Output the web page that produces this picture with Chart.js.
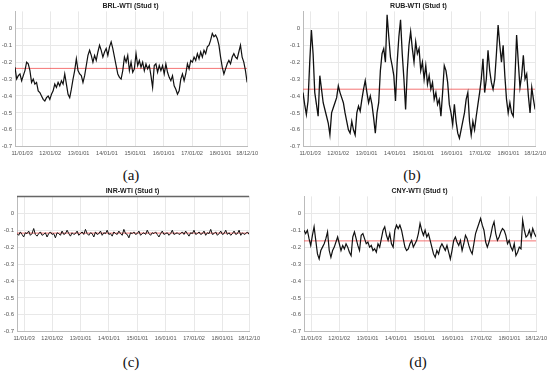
<!DOCTYPE html>
<html>
<head>
<meta charset="utf-8">
<script src="https://cdn.jsdelivr.net/npm/chart.js@4.4.1/dist/chart.umd.min.js"></script>
<style>
  body { margin: 0; background: #fff; width: 550px; height: 372px; position: relative; overflow: hidden; }
  .panel { position: absolute; }
  .sub { position: absolute; font-family: "Liberation Serif", "DejaVu Serif", serif; font-size: 15px; color: #111; transform: translate(-50%, -50%); }
</style>
</head>
<body>
<canvas id="chart-a" class="panel" width="261" height="162" style="left:0px;top:0px"></canvas>
<canvas id="chart-b" class="panel" width="261" height="162" style="left:288px;top:0px"></canvas>
<canvas id="chart-c" class="panel" width="261" height="162" style="left:2px;top:185px"></canvas>
<canvas id="chart-d" class="panel" width="261" height="162" style="left:289px;top:185px"></canvas>
<div class="sub" style="left:131px;top:175px">(a)</div>
<div class="sub" style="left:412px;top:175px">(b)</div>
<div class="sub" style="left:131px;top:362px">(c)</div>
<div class="sub" style="left:418px;top:362px">(d)</div>

<script>
// --- DATA ---
// time span of every series, in fractional years (first and last observation)
const dateStart = 2010.76;
const dateEnd = 2018.94;

const xTickYears = [2011.01, 2012.0, 2013.0, 2014.0, 2015.0, 2016.0, 2017.0, 2018.0, 2018.94];
const xTickLabels = ["11/01/03", "12/01/02", "13/01/01", "14/01/01", "15/01/01", "16/01/01", "17/01/02", "18/01/01", "18/12/10"];
const yTicks = [-0.7, -0.6, -0.5, -0.4, -0.3, -0.2, -0.1, 0];
const yTickLabels = ["-0.7", "-0.6", "-0.5", "-0.4", "-0.3", "-0.2", "-0.1", "0"];

const titles = ["BRL-WTI (Stud t)", "RUB-WTI (Stud t)", "INR-WTI (Stud t)", "CNY-WTI (Stud t)"];
const means = [-0.237, -0.36, -0.117, -0.163];

const brlWti = [
  -0.23, -0.3, -0.28, -0.27, -0.31, -0.28, -0.25, -0.2, -0.21, -0.25,
  -0.32, -0.3, -0.33, -0.32, -0.37, -0.38, -0.4, -0.42, -0.43, -0.41,
  -0.4, -0.42, -0.39, -0.37, -0.33, -0.35, -0.32, -0.34, -0.31, -0.33,
  -0.27, -0.33, -0.39, -0.41, -0.36, -0.3, -0.25, -0.18, -0.25, -0.27,
  -0.28, -0.32, -0.28, -0.22, -0.16, -0.13, -0.16, -0.2, -0.16, -0.19,
  -0.14, -0.1, -0.13, -0.17, -0.14, -0.12, -0.16, -0.11, -0.08, -0.12,
  -0.17, -0.22, -0.27, -0.29, -0.3, -0.25, -0.17, -0.2, -0.16, -0.25,
  -0.2, -0.26, -0.24, -0.15, -0.22, -0.19, -0.23, -0.2, -0.25, -0.21,
  -0.24, -0.22, -0.28, -0.35, -0.22, -0.21, -0.26, -0.22, -0.25, -0.22,
  -0.27, -0.21, -0.26, -0.29, -0.31, -0.28, -0.34, -0.36, -0.39, -0.37,
  -0.3, -0.27, -0.31, -0.27, -0.21, -0.24, -0.19, -0.2, -0.17, -0.19,
  -0.15, -0.18, -0.14, -0.17, -0.13, -0.15, -0.11, -0.1, -0.07, -0.03,
  -0.05, -0.04, -0.06, -0.1, -0.17, -0.23, -0.27, -0.24, -0.21, -0.19,
  -0.21, -0.17, -0.15, -0.17, -0.18, -0.14, -0.1, -0.17, -0.2, -0.25,
  -0.32
];

const rubWti = [
  -0.38, -0.45, -0.51, -0.43, -0.2, -0.01, -0.15, -0.38, -0.45, -0.52,
  -0.28, -0.36, -0.44, -0.48, -0.52, -0.56, -0.63, -0.5, -0.47, -0.44,
  -0.41, -0.34, -0.38, -0.41, -0.44, -0.5, -0.55, -0.6, -0.62, -0.55,
  -0.6, -0.63, -0.5, -0.46, -0.49, -0.42, -0.36, -0.31, -0.38, -0.44,
  -0.4, -0.45, -0.53, -0.62, -0.5, -0.44, -0.25, -0.15, -0.12, -0.2,
  0.08, -0.05, -0.17, -0.22, -0.28, -0.43, -0.2, -0.05, 0.05, -0.15,
  -0.3, -0.48, -0.25, -0.1, -0.02, -0.12, -0.2, -0.08, -0.15, -0.12,
  -0.25, -0.2, -0.3, -0.22, -0.33, -0.28, -0.36, -0.32, -0.42, -0.38,
  -0.45, -0.42, -0.52, -0.38, -0.22, -0.25, -0.32, -0.45, -0.5, -0.57,
  -0.45, -0.55, -0.62, -0.65, -0.6, -0.55, -0.5, -0.42, -0.38, -0.55,
  -0.63, -0.55, -0.6, -0.52, -0.45, -0.38, -0.3, -0.18, -0.38, -0.3,
  -0.13, -0.25, -0.32, -0.36, -0.3, -0.15, 0.02, -0.1, -0.2, -0.1,
  -0.28, -0.42, -0.5, -0.44, -0.5, -0.52, -0.3, -0.04, -0.2, -0.35,
  -0.28, -0.16, -0.3, -0.27, -0.4, -0.5, -0.35, -0.42, -0.48
];

const inrWti = [
  -0.12, -0.13, -0.11, -0.125, -0.14, -0.115, -0.12, -0.105, -0.13, -0.12,
  -0.09, -0.125, -0.135, -0.12, -0.11, -0.13, -0.125, -0.115, -0.14, -0.12,
  -0.11, -0.125, -0.12, -0.145, -0.115, -0.12, -0.13, -0.105, -0.125, -0.12,
  -0.1, -0.12, -0.135, -0.115, -0.125, -0.12, -0.105, -0.13, -0.12, -0.11,
  -0.125, -0.095, -0.12, -0.13, -0.115, -0.12, -0.14, -0.11, -0.125, -0.12,
  -0.105, -0.13, -0.115, -0.12, -0.1, -0.125, -0.12, -0.135, -0.11, -0.12,
  -0.125, -0.105, -0.12, -0.13, -0.095, -0.12, -0.125, -0.145, -0.115, -0.12,
  -0.11, -0.125, -0.12, -0.105, -0.13, -0.12, -0.115, -0.125, -0.1, -0.12,
  -0.13, -0.115, -0.12, -0.11, -0.125, -0.14, -0.12, -0.105, -0.125, -0.12,
  -0.115, -0.13, -0.12, -0.1, -0.125, -0.12, -0.115, -0.125, -0.12, -0.11,
  -0.125, -0.105, -0.12, -0.135, -0.115, -0.12, -0.1, -0.125, -0.12, -0.11,
  -0.125, -0.12, -0.105, -0.13, -0.115, -0.12, -0.095, -0.125, -0.12, -0.11,
  -0.13, -0.12, -0.105, -0.125, -0.12, -0.1, -0.125, -0.115, -0.13, -0.12,
  -0.105, -0.125, -0.12, -0.1, -0.13, -0.115, -0.125, -0.12, -0.11, -0.125
];

const cnyWti = [
  -0.1, -0.12, -0.1, -0.15, -0.19, -0.13, -0.08, -0.16, -0.24, -0.27,
  -0.22, -0.2, -0.18, -0.15, -0.11, -0.22, -0.26, -0.22, -0.2, -0.17,
  -0.14, -0.18, -0.22, -0.19, -0.21, -0.18, -0.2, -0.23, -0.25, -0.14,
  -0.11, -0.15, -0.19, -0.22, -0.13, -0.12, -0.15, -0.18, -0.17, -0.2,
  -0.19, -0.22, -0.21, -0.23, -0.18, -0.2, -0.15, -0.1, -0.08, -0.13,
  -0.16, -0.12, -0.18, -0.2, -0.1, -0.07, -0.09, -0.07, -0.1, -0.15,
  -0.2, -0.22, -0.21, -0.18, -0.16, -0.2, -0.18, -0.16, -0.12, -0.06,
  -0.1, -0.13, -0.1, -0.14, -0.12, -0.16, -0.2, -0.24, -0.26, -0.22,
  -0.24, -0.2, -0.18, -0.2, -0.22, -0.19, -0.23, -0.27, -0.22, -0.16,
  -0.14, -0.17, -0.19, -0.16, -0.22, -0.18, -0.13, -0.15, -0.19, -0.22,
  -0.24, -0.18, -0.12, -0.09, -0.06, -0.03, -0.07, -0.1, -0.17, -0.2,
  -0.17, -0.13, -0.08, -0.05, -0.12, -0.16, -0.14, -0.11, -0.09, -0.1,
  -0.13, -0.18, -0.16, -0.2, -0.22, -0.18, -0.25, -0.23, -0.2, -0.21,
  -0.04, -0.1, -0.14, -0.13, -0.1, -0.14, -0.09, -0.12, -0.14
];

// --- CHART SETUP ---
const FONT = "'Liberation Sans', Arial, sans-serif";
const GRID = "#e8e8e8";

function toPoints(values) {
  const step = (dateEnd - dateStart) / (values.length - 1);
  return values.map((v, i) => ({ x: dateStart + i * step, y: v }));
}

// dark top edge of the axes box (only drawn on panel c)
const topBorder = {
  id: "topBorder",
  afterDraw(chart, args, opts) {
    if (!opts.show) return;
    const { ctx, chartArea: a } = chart;
    ctx.save();
    ctx.strokeStyle = "#666";
    ctx.lineWidth = 1.5;
    ctx.beginPath();
    ctx.moveTo(a.left, a.top);
    ctx.lineTo(a.right, a.top);
    ctx.stroke();
    ctx.restore();
  },
};

function makePanel(id, title, values, mean, boxTop, lineW) {
  const ctx = document.getElementById(id).getContext("2d");
  return new Chart(ctx, {
    type: "line",
    data: {
      datasets: [
        {
          data: toPoints(values),
          borderColor: "#111",
          borderWidth: lineW,
          pointRadius: 0,
          tension: 0,
        },
        {
          data: [{ x: dateStart, y: mean }, { x: dateEnd, y: mean }],
          borderColor: "rgba(240,70,70,0.75)",
          borderWidth: 1,
          pointRadius: 0,
        },
      ],
    },
    options: {
      responsive: false,
      animation: false,
      devicePixelRatio: 1,
      layout: { padding: 0 },
      plugins: {
        legend: { display: false },
        tooltip: { enabled: false },
        title: {
          display: true,
          text: title,
          color: "#222",
          font: { family: FONT, size: 7, weight: "bold", lineHeight: 1.2 },
          padding: { top: 2, bottom: 1 },
        },
        topBorder: { show: boxTop },
      },
      scales: {
        x: {
          type: "linear",
          min: dateStart,
          max: dateEnd,
          afterBuildTicks: (s) => { s.ticks = xTickYears.map((v) => ({ value: v })); },
          afterFit: (s) => { s.height = 15.3; },
          grid: { color: GRID, drawTicks: false },
          border: { color: "#bbb" },
          ticks: {
            padding: 3,
            autoSkip: false,
            maxRotation: 0,
            color: "#555",
            font: { family: FONT, size: 5.6 },
            callback: (v, i) => xTickLabels[i],
          },
        },
        y: {
          min: -0.7,
          max: 0.1,
          afterBuildTicks: (s) => { s.ticks = yTicks.map((v) => ({ value: v })); },
          afterFit: (s) => { s.width = 15; },
          grid: { color: GRID, drawTicks: false },
          border: { color: "#bbb" },
          ticks: {
            padding: 3,
            color: "#555",
            font: { family: FONT, size: 6 },
            callback: (v, i) => yTickLabels[i],
          },
        },
      },
    },
    plugins: [topBorder],
  });
}

makePanel("chart-a", titles[0], brlWti, means[0], false, 1.2);
makePanel("chart-b", titles[1], rubWti, means[1], false, 1.3);
makePanel("chart-c", titles[2], inrWti, means[2], true, 1);
makePanel("chart-d", titles[3], cnyWti, means[3], false, 1.2);
</script>
</body>
</html>
